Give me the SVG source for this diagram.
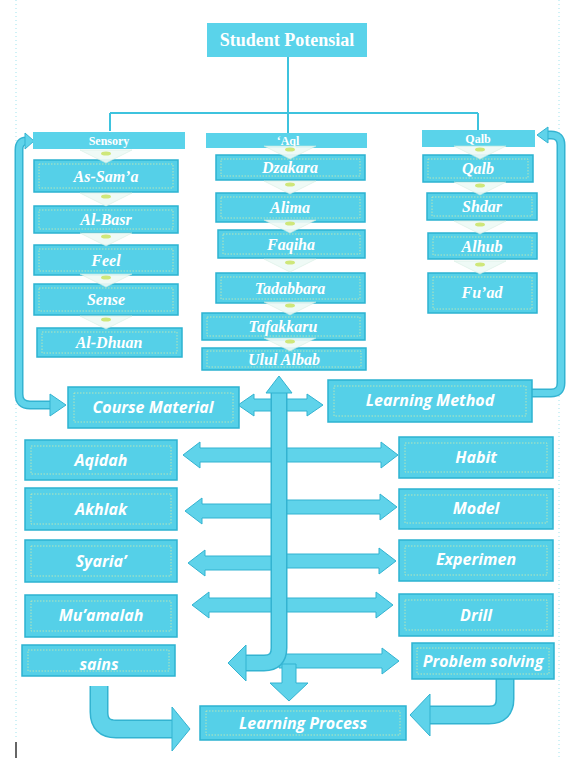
<svg xmlns="http://www.w3.org/2000/svg" width="566" height="758" viewBox="0 0 566 758">
<style>
.bg{fill:#ffffff}
.box{fill:#55d0e8;stroke:#2cb3d1;stroke-width:1.5}
.hdr{fill:#5ad3ea}
.inner{fill:none;stroke:#e4f0a4;stroke-width:0.9;stroke-dasharray:1.5 1.5;opacity:0.75}
.tt{font-family:"Liberation Serif","DejaVu Serif",serif;font-weight:bold;fill:#ffffff;text-anchor:middle}
.ti{font-family:"Liberation Serif","DejaVu Serif",serif;font-style:italic;font-weight:bold;fill:#ffffff;text-anchor:middle;font-size:16px}
.ts{font-family:"Open Sans","Liberation Sans",sans-serif;font-style:italic;font-weight:bold;fill:#ffffff;text-anchor:middle;font-size:16px}
.line{stroke:#3ec3de;stroke-width:2;fill:none}
.po{fill:none;stroke:#33b3d1}
.pi{fill:none;stroke:#5fd3ea}
.arr{fill:#5fd3ea;stroke:#33b3d1;stroke-width:1;stroke-linejoin:round}
.frame{stroke:#9fe3ee;stroke-width:1;stroke-dasharray:1 3}
.chev{fill:#eefaf6;stroke:#d4efe0;stroke-width:0.6;opacity:0.9}
.chc{fill:#cfe77a}
</style>
<defs>
<g id="chev">
<polygon class="chev" points="-26,0 26,0 0,13"/>
<ellipse class="chc" cx="0" cy="3.5" rx="5" ry="2"/>
</g>
</defs>
<rect class="bg" x="0" y="0" width="566" height="758"/>
<line class="frame" x1="16" y1="0" x2="16" y2="740"/>
<line class="frame" x1="559" y1="0" x2="559" y2="758"/>
<line x1="16" y1="742" x2="16" y2="758" stroke="#333" stroke-width="1.5"/>

<g id="connectors">
<line class="line" x1="288" y1="57" x2="288" y2="113"/>
<line class="line" x1="110" y1="113" x2="478" y2="113"/>
<line class="line" x1="110" y1="113" x2="110" y2="131"/>
<line class="line" x1="288" y1="113" x2="288" y2="133"/>
<line class="line" x1="478" y1="113" x2="478" y2="130"/>

<path class="po" stroke-width="9" d="M26,141 Q19,141 19,150 L19,394 Q19,405 30,405 L51,405"/>
<path class="pi" stroke-width="6" d="M26,141 Q19,141 19,150 L19,394 Q19,405 30,405 L51,405"/>
<polygon class="arr" points="34,141 25,133 25,149"/>
<polygon class="arr" points="66,405 50,394 50,416"/>

<path class="po" stroke-width="9" d="M532,393 L551,393 Q561,393 561,383 L561,145 Q561,135 551,135 L547,135"/>
<path class="pi" stroke-width="6" d="M532,393 L551,393 Q561,393 561,383 L561,145 Q561,135 551,135 L547,135"/>
<polygon class="arr" points="537,135 548,127 548,143"/>

<polygon class="arr" points="183,455 200,442 200,448 279,448 279,462 200,462 200,468"/>
<polygon class="arr" points="185,511 202,498 202,504 279,504 279,518 202,518 202,524"/>
<polygon class="arr" points="188,563 205,550 205,556 279,556 279,570 205,570 205,576"/>
<polygon class="arr" points="192,605 209,592 209,598 279,598 279,612 209,612 209,618"/>
<polygon class="arr" points="279,448 381,448 381,442 398,455 381,468 381,462 279,462"/>
<polygon class="arr" points="279,500 380,500 380,494 397,507 380,520 380,514 279,514"/>
<polygon class="arr" points="279,554 379,554 379,548 396,561 379,574 379,568 279,568"/>
<polygon class="arr" points="279,598 376,598 376,592 393,605 376,618 376,612 279,612"/>
<polygon class="arr" points="279,654 382,654 382,648 399,661 382,674 382,668 279,668"/>
<polygon class="arr" points="238,405 254,394 254,399 307,399 307,394 323,405 307,416 307,411 254,411 254,416"/>

<polygon class="arr" points="282,664 296,664 296,683 308,683 289,701 270,683 282,683"/>

<path class="po" stroke-width="17" d="M279,392 L279,648 Q279,663 264,663 L245,663"/>
<path class="pi" stroke-width="14" d="M279,392 L279,648 Q279,663 264,663 L245,663"/>
<polygon class="arr" points="279,376 292,393 266,393"/>
<polygon class="arr" points="228,663 246,645 246,681"/>

<path class="po" stroke-width="19" d="M99,686 L99,712 Q99,729 116,729 L174,729"/>
<path class="pi" stroke-width="16" d="M99,686 L99,712 Q99,729 116,729 L174,729"/>
<polygon class="arr" points="190,729 172,707 172,751"/>
<path class="po" stroke-width="19" d="M505,679 L505,699 Q505,715 489,715 L428,715"/>
<path class="pi" stroke-width="16" d="M505,679 L505,699 Q505,715 489,715 L428,715"/>
<polygon class="arr" points="410,715 430,694 430,736"/>
</g>

<g id="student-potensial">
<rect class="hdr" x="207" y="23" width="160" height="34"/>
<text class="tt" x="287" y="46" font-size="18">Student Potensial</text>
</g>

<g id="sensory">
<rect class="hdr" x="33" y="132" width="152" height="17"/>
<text class="tt" x="109" y="145" font-size="12" font-weight="normal">Sensory</text>
</g>
<g id="aql">
<rect class="hdr" x="206" y="133" width="161" height="15"/>
<text class="tt" x="288" y="145" font-size="12" font-weight="normal">‘Aql</text>
</g>
<g id="qalb-h">
<rect class="hdr" x="422" y="130" width="113" height="17"/>
<text class="tt" x="478" y="143" font-size="12" font-weight="normal">Qalb</text>
</g>

<g id="as-sama"><rect class="box" x="34" y="160" width="144" height="32"/><rect class="inner" x="39" y="164" width="134" height="24"/><text class="ti" x="106" y="182">As-Sam’a</text></g>
<g id="al-basr"><rect class="box" x="34" y="206" width="144" height="27"/><rect class="inner" x="39" y="210" width="134" height="19"/><text class="ti" x="106" y="225">Al-Basr</text></g>
<g id="feel"><rect class="box" x="34" y="245" width="144" height="30"/><rect class="inner" x="39" y="249" width="134" height="22"/><text class="ti" x="106" y="266">Feel</text></g>
<g id="sense"><rect class="box" x="34" y="284" width="144" height="31"/><rect class="inner" x="39" y="288" width="134" height="23"/><text class="ti" x="106" y="305">Sense</text></g>
<g id="al-dhuan"><rect class="box" x="37" y="328" width="145" height="29"/><rect class="inner" x="42" y="332" width="135" height="21"/><text class="ti" x="109" y="348">Al-Dhuan</text></g>

<g id="dzakara"><rect class="box" x="216" y="155" width="149" height="25"/><rect class="inner" x="221" y="159" width="139" height="17"/><text class="ti" x="290" y="173">Dzakara</text></g>
<g id="alima"><rect class="box" x="216" y="193" width="149" height="29"/><rect class="inner" x="221" y="197" width="139" height="21"/><text class="ti" x="290" y="213">Alima</text></g>
<g id="faqiha"><rect class="box" x="218" y="230" width="147" height="28"/><rect class="inner" x="223" y="234" width="137" height="20"/><text class="ti" x="291" y="250">Faqiha</text></g>
<g id="tadabbara"><rect class="box" x="216" y="273" width="149" height="30"/><rect class="inner" x="221" y="277" width="139" height="22"/><text class="ti" x="290" y="294">Tadabbara</text></g>
<g id="tafakkaru"><rect class="box" x="202" y="313" width="163" height="27"/><rect class="inner" x="207" y="317" width="153" height="19"/><text class="ti" x="283" y="332">Tafakkaru</text></g>
<g id="ulul-albab"><rect class="box" x="202" y="348" width="164" height="22"/><rect class="inner" x="207" y="351" width="154" height="16"/><text class="ti" x="284" y="365">Ulul Albab</text></g>

<g id="qalb"><rect class="box" x="423" y="155" width="110" height="27"/><rect class="inner" x="428" y="159" width="100" height="19"/><text class="ti" x="478" y="174">Qalb</text></g>
<g id="shdar"><rect class="box" x="427" y="193" width="110" height="27"/><rect class="inner" x="432" y="197" width="100" height="19"/><text class="ti" x="482" y="212">Shdar</text></g>
<g id="alhub"><rect class="box" x="428" y="233" width="109" height="26"/><rect class="inner" x="433" y="237" width="99" height="18"/><text class="ti" x="482" y="252">Alhub</text></g>
<g id="fuad"><rect class="box" x="428" y="273" width="109" height="40"/><rect class="inner" x="433" y="277" width="99" height="32"/><text class="ti" x="482" y="298">Fu’ad</text></g>

<g id="course-material"><rect class="box" x="68" y="387" width="171" height="41"/><rect class="inner" x="74" y="393" width="159" height="29"/><text class="ts" x="153" y="413">Course Material</text></g>
<g id="learning-method"><rect class="box" x="328" y="380" width="204" height="42"/><rect class="inner" x="334" y="386" width="192" height="30"/><text class="ts" x="430" y="406" font-size="17">Learning Method</text></g>

<g id="aqidah"><rect class="box" x="25" y="440" width="152" height="40"/><rect class="inner" x="31" y="446" width="140" height="28"/><text class="ts" x="101" y="466">Aqidah</text></g>
<g id="akhlak"><rect class="box" x="25" y="488" width="152" height="42"/><rect class="inner" x="31" y="494" width="140" height="30"/><text class="ts" x="101" y="515">Akhlak</text></g>
<g id="syariah"><rect class="box" x="25" y="540" width="152" height="42"/><rect class="inner" x="31" y="546" width="140" height="30"/><text class="ts" x="101" y="567">Syaria’</text></g>
<g id="muamalah"><rect class="box" x="25" y="595" width="152" height="42"/><rect class="inner" x="31" y="601" width="140" height="30"/><text class="ts" x="101" y="621">Mu’amalah</text></g>
<g id="sains"><rect class="box" x="22" y="645" width="153" height="31"/><rect class="inner" x="28" y="650" width="141" height="21"/><text class="ts" x="99" y="670">sains</text></g>

<g id="habit"><rect class="box" x="399" y="437" width="154" height="41"/><rect class="inner" x="405" y="443" width="142" height="29"/><text class="ts" x="476" y="463">Habit</text></g>
<g id="model"><rect class="box" x="399" y="489" width="154" height="40"/><rect class="inner" x="405" y="495" width="142" height="28"/><text class="ts" x="476" y="514">Model</text></g>
<g id="experimen"><rect class="box" x="399" y="540" width="154" height="41"/><rect class="inner" x="405" y="546" width="142" height="29"/><text class="ts" x="476" y="565" font-size="13">Experimen</text></g>
<g id="drill"><rect class="box" x="399" y="594" width="154" height="42"/><rect class="inner" x="405" y="600" width="142" height="30"/><text class="ts" x="476" y="621">Drill</text></g>
<g id="problem-solving"><rect class="box" x="412" y="643" width="142" height="36"/><rect class="inner" x="417" y="648" width="132" height="26"/><text class="ts" x="483" y="667">Problem solving</text></g>

<g id="learning-process"><rect class="box" x="200" y="706" width="206" height="34"/><rect class="inner" x="206" y="711" width="194" height="24"/><text class="ts" x="303" y="729">Learning Process</text></g>

<g id="chevrons">
<use href="#chev" x="106" y="150"/>
<use href="#chev" x="106" y="193"/>
<use href="#chev" x="106" y="233"/>
<use href="#chev" x="106" y="274"/>
<use href="#chev" x="106" y="316"/>
<use href="#chev" x="290" y="146"/>
<use href="#chev" x="290" y="181"/>
<use href="#chev" x="290" y="220"/>
<use href="#chev" x="290" y="259"/>
<use href="#chev" x="290" y="302"/>
<use href="#chev" x="290" y="338"/>
<use href="#chev" x="480" y="146"/>
<use href="#chev" x="480" y="182"/>
<use href="#chev" x="480" y="221"/>
<use href="#chev" x="480" y="261"/>
</g>
</svg>
